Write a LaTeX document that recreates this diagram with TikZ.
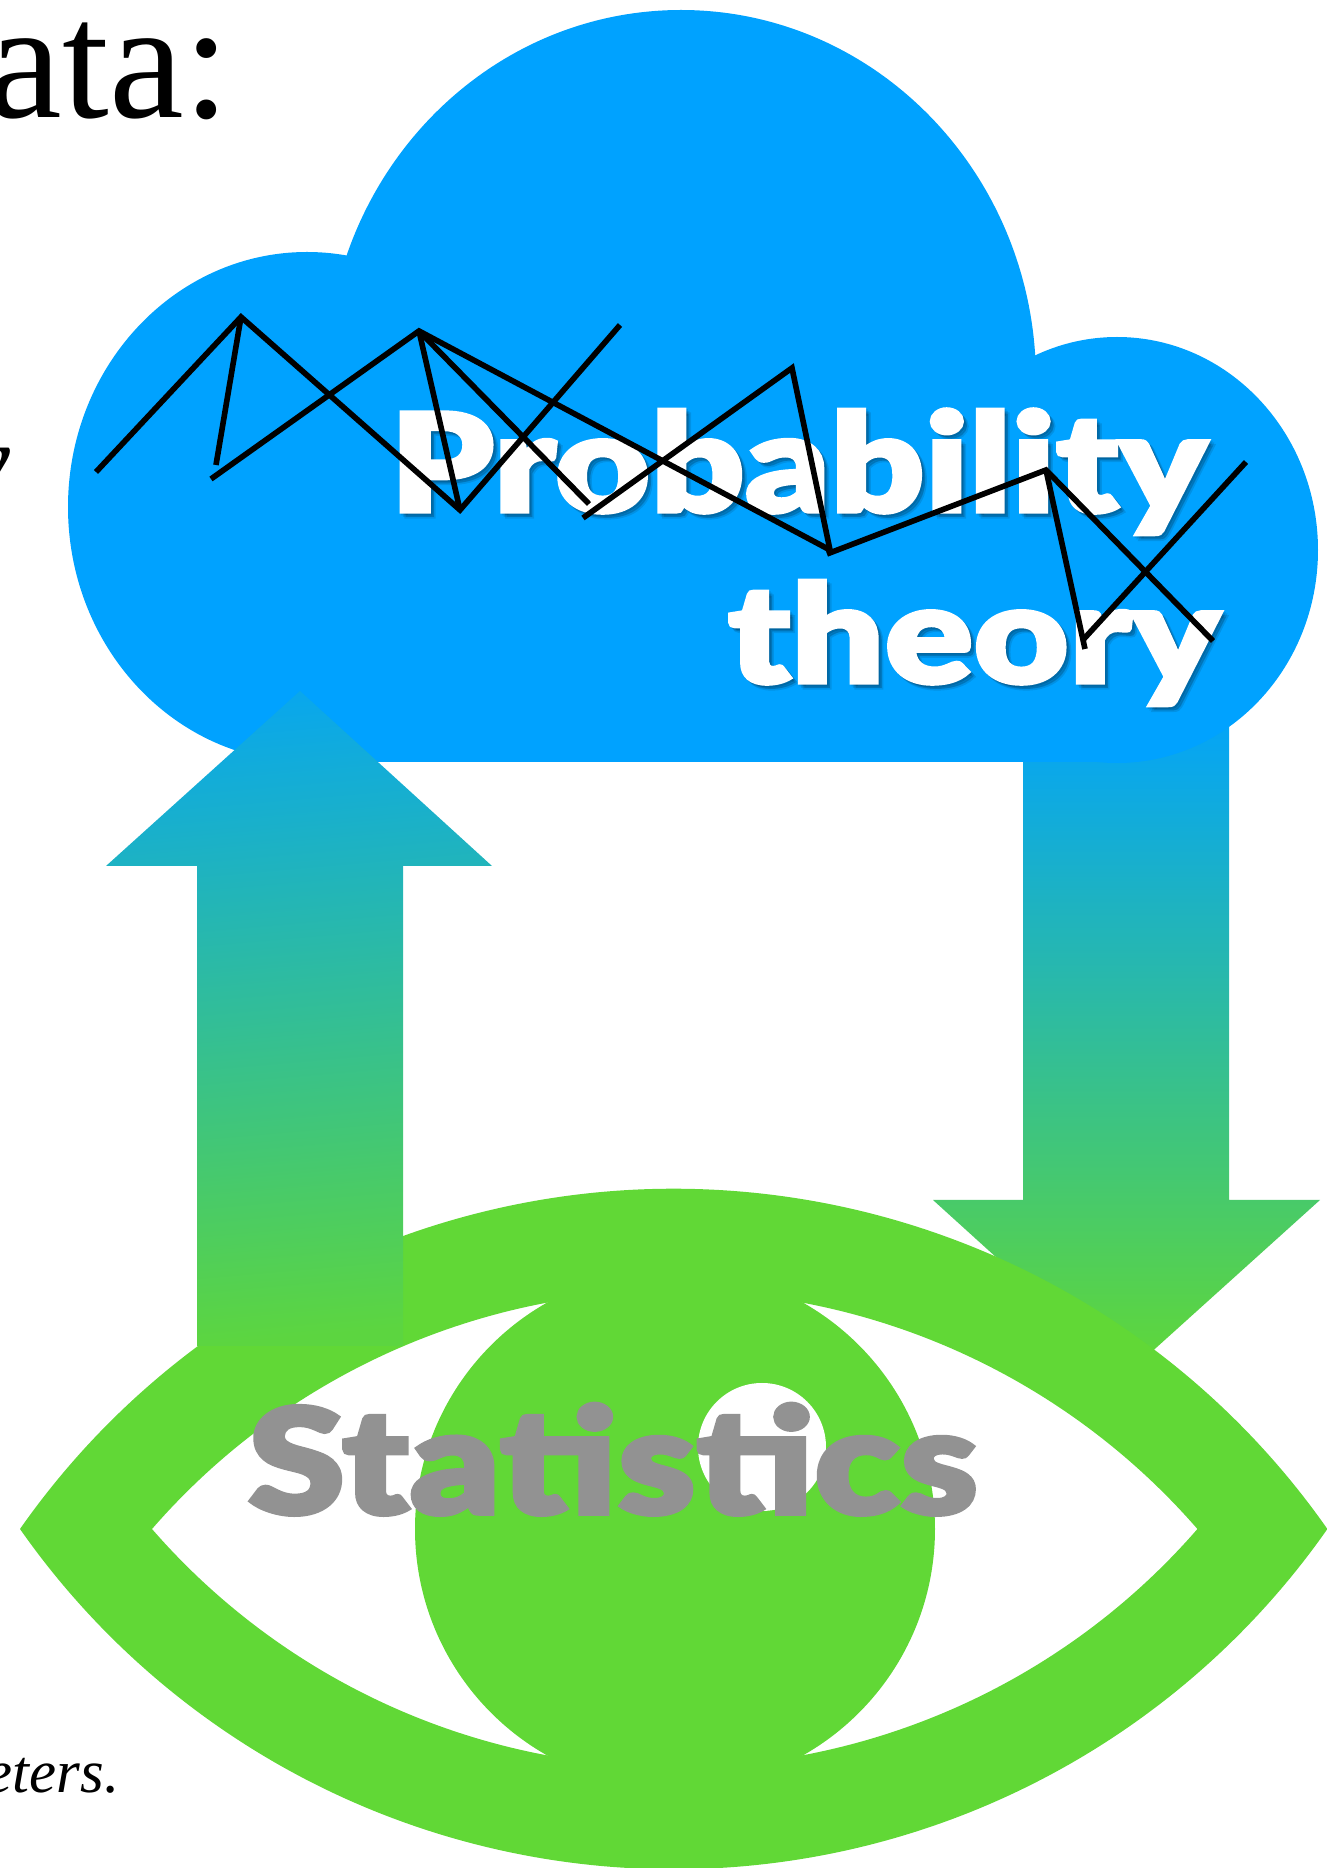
\documentclass[tikz,border=0pt]{standalone}
\usepackage{fontspec}
\setmainfont{Liberation Serif}
\newfontfamily\labelfont[FakeBold=2.5,FakeStretch=1.2]{Lato Black}

\definecolor{cloudblue}{HTML}{00A2FF}
\definecolor{eyegreen}{HTML}{61D836}
\definecolor{labelgray}{HTML}{929292}

\tikzset{
  walkline/.style={line width=1.6pt},
  cloudpart/.style={fill=cloudblue},
  eyepart/.style={fill=eyegreen},
  problabel/.style={font=\labelfont\fontsize{39}{39}\selectfont,inner sep=0pt,anchor=base west,text=white},
  problabelshadow/.style={problabel,text=black,opacity=0.1},
  statlabel/.style={font=\labelfont\fontsize{41.8}{43}\selectfont,inner sep=0pt,anchor=base west,text=labelgray}
}

\begin{document}
\begin{tikzpicture}[x=0.01cm,y=0.01cm]

\useasboundingbox (0,0) rectangle (1326,1868);

% Page text behind the picture
\node[font=\fontsize{47.8}{48}\selectfont,inner sep=0pt,anchor=base east] (heading) at (231,1750) {ata:};
\node[font=\itshape\fontsize{30}{30}\selectfont,inner sep=0pt,anchor=base east] (lineend) at (11,1371) {y};
\node[font=\itshape\fontsize{17.3}{17}\selectfont,inner sep=0pt,anchor=base east] (lastline) at (120,75) {eters.};

% Down arrow
\draw[draw=none,top color=cloudblue,bottom color=eyegreen] (1023,1174)--(1229,1174)--(1229,668)--(1320,668)--(1126,493)--(933,668)--(1023,668)--cycle;

% Cloud
\fill[cloudpart] (307,1361) ellipse (239 and 255);
\fill[cloudpart] (681,1488) ellipse (355 and 370);
\fill[cloudpart] (1117,1318) ellipse (201 and 213);
\fill[cloudpart] (307,1106) rectangle (1117,1400);

% Eye
\fill[eyepart,even odd rule] (20,339) arc[start angle=145,end angle=35,radius=798] arc[start angle=-35,end angle=-145,radius=798] -- cycle
  (152,339) arc[start angle=139,end angle=41,radius=692.6] arc[start angle=-41,end angle=-139,radius=692.6] -- cycle;
\fill[eyepart] (675,339) circle (260);
\fill[white] (762,421) circle (64);

% Up arrow
\draw[draw=none,top color=eyegreen!10!cloudblue,bottom color=eyegreen!95!cloudblue,shading angle=5] (197,522)--(197,1002)--(106,1002)--(300,1177)--(492,1002)--(403,1002)--(403,522)--cycle;

% Labels
\foreach \i in {1,2,3} {
  \node[problabelshadow] (probshadow\i) at (389+\i*1.6,1356-\i*1.6) {Probability};
  \node[problabelshadow] (theoryshadow\i) at (727+\i*1.6,1185-\i*1.6) {theory};
}
\node[problabel] (prob) at (389,1356) {Probability};
\node[problabel] (theory) at (727,1185) {theory};
\node[statlabel] (stat) at (247,354) {Statistics};

% Walk
\coordinate (w1) at (96,1396);
\coordinate (w2) at (241,1551);
\coordinate (w3) at (460,1358);
\coordinate (w4) at (620,1543);
\coordinate (w5) at (216,1403);
\coordinate (w6) at (211,1389);
\coordinate (w7) at (419,1537);
\coordinate (w8) at (589,1364);
\coordinate (w9) at (583,1350);
\coordinate (w10) at (792,1500);
\coordinate (w11) at (830,1318);
\coordinate (w12) at (1046,1398);
\coordinate (w13) at (1213,1227);
\coordinate (w14) at (1085,1219);
\coordinate (w15) at (1082,1227);
\coordinate (w16) at (1246,1406);

\draw[walkline] (w1)--(w2)--(w3)--(w4);
\draw[walkline] (w2)--(w5);
\draw[walkline] (w6)--(w7)--(w11);
\draw[walkline] (w7)--(w3);
\draw[walkline] (w7)--(w8);
\draw[walkline] (w9)--(w10)--(w11);
\draw[walkline] (827,1314)--(w12)--(w13);
\draw[walkline] (w12)--(w14);
\draw[walkline] (w15)--(w16);

\end{tikzpicture}
\end{document}
